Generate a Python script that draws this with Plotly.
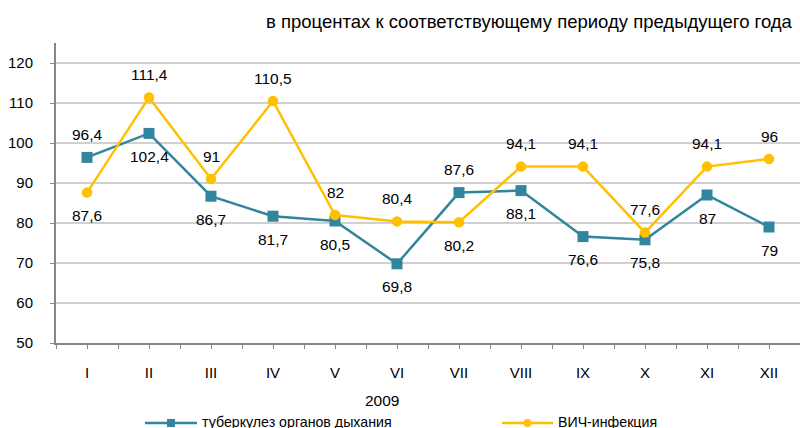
import plotly.graph_objects as go

months = ["I", "II", "III", "IV", "V", "VI", "VII", "VIII", "IX", "X", "XI", "XII"]
tb_values = [96.4, 102.4, 86.7, 81.7, 80.5, 69.8, 87.6, 88.1, 76.6, 75.8, 87, 79]
hiv_values = [87.6, 111.4, 91, 110.5, 82, 80.4, 80.2, 94.1, 94.1, 77.6, 94.1, 96]
# label side for each point: +1 above, -1 below
tb_label_side = [1, -1, -1, -1, -1, -1, 1, -1, -1, -1, -1, -1]
hiv_label_side = [-1, 1, 1, 1, 1, 1, -1, 1, 1, 1, 1, 1]
series_names = ["туберкулез органов дыхания", "ВИЧ-инфекция"]
year_label = "2009"

BLUE = "#31859C"
YELLOW = "#FFC000"
FONT = "Liberation Sans, Arial, sans-serif"

W, H = 800, 428
ML, MR, MT, MB = 56, 0, 43, 85
PW, PH = W - ML - MR, H - MT - MB


def px_x(x):
    """Horizontal pixel -> paper coordinate."""
    return (x - ML) / PW


def px_y(y):
    """Vertical pixel (from top) -> paper coordinate."""
    return (H - MB - y) / PH


xs = list(range(len(months)))

fig = go.Figure()
fig.add_trace(go.Scatter(
    x=xs, y=tb_values, mode="lines+markers", name=series_names[0],
    line=dict(color=BLUE, width=2.5),
    marker=dict(symbol="square", size=11, color=BLUE),
))
fig.add_trace(go.Scatter(
    x=xs, y=hiv_values, mode="lines+markers", name=series_names[1],
    line=dict(color=YELLOW, width=2.5),
    marker=dict(symbol="circle", size=10.5, color=YELLOW),
))


def fmt(v):
    return f"{v:g}".replace(".", ",")


for vals, sides in ((tb_values, tb_label_side), (hiv_values, hiv_label_side)):
    for i, (v, s) in enumerate(zip(vals, sides)):
        fig.add_annotation(x=i, y=v, text=fmt(v), showarrow=False,
                           yshift=23 * s, font=dict(size=15.5, color="#000000", family=FONT))

# heading above the plot
fig.add_annotation(
    text="в процентах к соответствующему периоду предыдущего года",
    xref="paper", yref="paper", x=px_x(795), y=px_y(22),
    xanchor="right", yanchor="middle", showarrow=False,
    font=dict(size=18.5, color="#000000", family=FONT),
)

# year caption under the month axis
fig.add_annotation(
    text=year_label, xref="paper", yref="paper", x=px_x(382), y=px_y(400),
    xanchor="center", yanchor="middle", showarrow=False,
    font=dict(size=15.5, color="#000000", family=FONT),
)

# legend row: line sample with marker, then the series name
legend_y = 423
legend_items = [
    (145, 197, BLUE, "square", series_names[0]),
    (502, 553, YELLOW, "circle", series_names[1]),
]
for x0, x1, color, sym, name in legend_items:
    fig.add_shape(type="line", xref="paper", yref="paper",
                  x0=px_x(x0), x1=px_x(x1), y0=px_y(legend_y), y1=px_y(legend_y),
                  line=dict(color=color, width=2.5))
    cx = (x0 + x1) / 2
    r = 4
    fig.add_shape(type="rect" if sym == "square" else "circle",
                  xref="paper", yref="paper",
                  x0=px_x(cx - r), x1=px_x(cx + r),
                  y0=px_y(legend_y + r), y1=px_y(legend_y - r),
                  fillcolor=color, line=dict(color=color, width=0))
    fig.add_annotation(text=name, xref="paper", yref="paper",
                       x=px_x(x1 + 3), y=px_y(legend_y - 1),
                       xanchor="left", yanchor="middle", showarrow=False,
                       font=dict(size=14.2, color="#000000", family=FONT))

fig.update_layout(
    width=W, height=H,
    margin=dict(l=ML, r=MR, t=MT, b=MB, autoexpand=False),
    paper_bgcolor="white", plot_bgcolor="white",
    font=dict(family=FONT, size=15, color="#000000"),
    showlegend=False,
)

fig.update_xaxes(
    range=[-0.5, 11.5], tickmode="array", tickvals=xs, ticktext=months,
    showgrid=False, zeroline=False, automargin=False,
    showline=True, linecolor="#868686", linewidth=1.5,
    ticks="outside", ticklen=4, tickcolor="#868686",
    minor=dict(ticks="outside", ticklen=4, tickcolor="#868686", tick0=-0.5, dtick=1, showgrid=False),
    ticklabelstandoff=11,
    tickfont=dict(size=15),
)
fig.update_yaxes(
    range=[50, 125], tickmode="array", tickvals=[50, 60, 70, 80, 90, 100, 110, 120],
    showgrid=True, gridcolor="#D0D0D0", gridwidth=1.5, zeroline=False, automargin=False,
    showline=True, linecolor="#868686", linewidth=2,
    ticks="outside", ticklen=4, tickcolor="#868686",
    ticklabelstandoff=14,
    tickfont=dict(size=15),
)

fig.write_html("out.html")
